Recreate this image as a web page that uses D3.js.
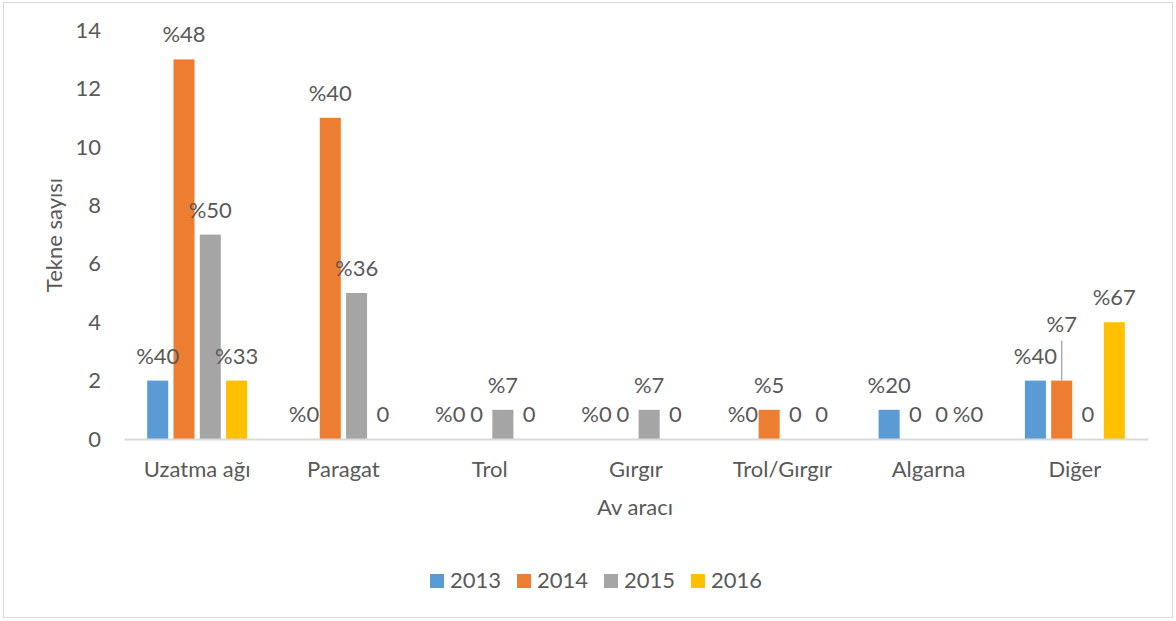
<!DOCTYPE html>
<html>
<head>
<meta charset="utf-8">
<script src="https://cdn.jsdelivr.net/npm/d3@7"></script>
<style>
  html, body { margin: 0; padding: 0; background: #fff; }
  svg { display: block; }
  text { font-family: Lato, "Noto Sans", sans-serif; fill: #595959; }
</style>
</head>
<body>
<svg id="chart" width="1176" height="621"></svg>
<script>
const categories = ["Uzatma ağı", "Paragat", "Trol", "Gırgır", "Trol/Gırgır", "Algarna", "Diğer"];
const years = ["2013", "2014", "2015", "2016"];
const values2013 = [2, 0, 0, 0, 0, 1, 2];
const values2014 = [13, 11, 0, 0, 1, 0, 2];
const values2015 = [7, 5, 1, 1, 0, 0, 0];
const values2016 = [2, 0, 0, 0, 0, 0, 4];
const labels2013 = ["%40", "%0", "%0", "%0", "%0", "%20", "%40"];
const labels2014 = ["%48", "%40", "0", "0", "%5", "0", "%7"];
const labels2015 = ["%50", "%36", "%7", "%7", "0", "0", "0"];
const labels2016 = ["%33", "0", "0", "0", "0", "%0", "%67"];
const yTicks = [0, 2, 4, 6, 8, 10, 12, 14];
const colors = ["#5b9bd5", "#ed7d31", "#a5a5a5", "#ffc000"];
const yTitle = "Tekne sayısı";
const xTitle = "Av aracı";

const seriesValues = [values2013, values2014, values2015, values2016];
const seriesLabels = [labels2013, labels2014, labels2015, labels2016];

const rows = [];
categories.forEach((c, ci) => {
  years.forEach((yr, yi) => {
    rows.push({cat: c, year: yr, value: seriesValues[yi][ci], label: seriesLabels[yi][ci], color: colors[yi]});
  });
});

const svg = d3.select("#chart");
const FS = 22;

// outer frame
svg.append("rect").attr("x", 3.5).attr("y", 2.5).attr("width", 1169).attr("height", 615)
  .attr("fill", "#fff").attr("stroke", "#d9d9d9").attr("stroke-width", 1);

const plot = {left: 124, right: 1148, top: 30.2, bottom: 439};

const x0 = d3.scaleBand().domain(categories).range([plot.left, plot.right]).padding(0);
const x1 = d3.scaleBand().domain(years).paddingInner(0.2).paddingOuter(0.1);
const y = d3.scaleLinear().domain([0, 14]).range([plot.bottom, plot.top]);

const bw = x0.bandwidth();
const groupW = bw * 0.719;
x1.range([-groupW / 2, groupW / 2]);

// y axis labels (no line)
const yAxis = d3.axisLeft(y).tickValues(yTicks).tickSize(0).tickPadding(23);
const gy = svg.append("g").attr("transform", `translate(${plot.left},0)`).call(yAxis);
gy.select(".domain").remove();
gy.selectAll("text").style("font-size", FS + "px").attr("fill", "#595959")
  .style("font-family", "Lato, sans-serif");

// bars
const groups = svg.append("g").selectAll("g").data(categories).join("g")
  .attr("transform", d => `translate(${x0(d) + bw / 2},0)`);

groups.selectAll("rect").data(c => rows.filter(r => r.cat === c && r.value > 0)).join("rect")
  .attr("x", d => x1(d.year))
  .attr("width", x1.bandwidth())
  .attr("y", d => y(d.value))
  .attr("height", d => y(0) - y(d.value))
  .attr("fill", d => d.color);

// x axis line
const xAxis = d3.axisBottom(x0).tickSize(0).tickPadding(30);
const gx = svg.append("g").attr("transform", `translate(0,${plot.bottom})`).call(xAxis);
gx.select(".domain").attr("stroke", "#d9d9d9").attr("stroke-width", 2);
gx.selectAll("text").style("font-size", FS + "px").attr("fill", "#595959")
  .style("font-family", "Lato, sans-serif").attr("dy", "0.35em");

// data labels
const moved = {cat: "Diğer", year: "2014", dy: -32};
groups.each(function(c) {
  const g = d3.select(this);
  rows.filter(r => r.cat === c).forEach(d => {
    const cx = x1(d.year) + x1.bandwidth() / 2;
    let by = y(d.value) - 17;
    if (d.cat === moved.cat && d.year === moved.year) {
      by += moved.dy;
      g.append("line").attr("x1", cx).attr("x2", cx)
        .attr("y1", by + 9).attr("y2", y(d.value))
        .attr("stroke", "#a5a5a5").attr("stroke-width", 1.3);
    }
    g.append("text").attr("x", cx).attr("y", by).attr("text-anchor", "middle")
      .style("font-size", FS + "px").text(d.label);
  });
});

// axis titles
svg.append("text").attr("transform", "translate(62,235) rotate(-90)")
  .attr("text-anchor", "middle").style("font-size", FS + "px").text(yTitle);
svg.append("text").attr("x", 635).attr("y", 515).attr("text-anchor", "middle")
  .style("font-size", FS + "px").text(xTitle);

// legend
const legX = d3.scalePoint().domain(years).range([430, 691]);
const leg = svg.append("g").selectAll("g").data(years).join("g")
  .attr("transform", d => `translate(${legX(d)},574)`);
leg.append("rect").attr("width", 14).attr("height", 14).attr("fill", (d, i) => colors[i]);
leg.append("text").attr("x", 20).attr("y", 14).style("font-size", FS + "px").text(d => d);
</script>
</body>
</html>
